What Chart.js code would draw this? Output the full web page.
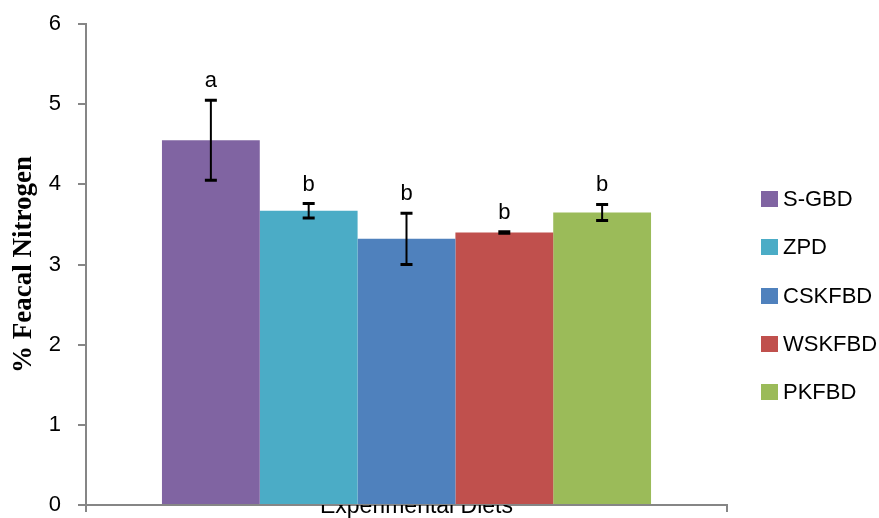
<!DOCTYPE html>
<html>
<head>
<meta charset="utf-8">
<script src="https://cdn.jsdelivr.net/npm/chart.js@4.4.1/dist/chart.umd.min.js"></script>
<style>
  html, body { margin: 0; padding: 0; background: #fff; }
  #wrap { position: relative; width: 879px; height: 518px; }
  #legend {
    position: absolute; left: 761px; top: 175px;
    font: 22px "Liberation Sans", Arial, sans-serif; color: #000;
  }
  #legend .item { display: flex; align-items: center; height: 48.3px; }
  #legend .box { width: 17px; height: 16px; margin-right: 5px; }
</style>
</head>
<body>
<div id="wrap">
  <canvas id="chart" width="879" height="518"></canvas>
  <div id="legend"></div>
</div>
<script>
// Data
const categories = ['Experimental Diets'];
const diets = ['S-GBD', 'ZPD', 'CSKFBD', 'WSKFBD', 'PKFBD'];
const means = [4.55, 3.67, 3.32, 3.40, 3.65];
const errors = [0.50, 0.09, 0.32, 0.01, 0.10];
const letters = ['a', 'b', 'b', 'b', 'b'];
const yMin = 0, yMax = 6, yStep = 1;

const colors = ['#8064A2', '#4BACC6', '#4F81BD', '#C0504D', '#9BBB59'];
const axisGray = '#868686';
const sansFont = '"Liberation Sans", Arial, sans-serif';

// Error bars and significance letters, drawn on top of the bars
const errorBarPlugin = {
  id: 'errorBars',
  afterDatasetsDraw(chart) {
    const ctx = chart.ctx;
    const y = chart.scales.y;
    ctx.save();
    ctx.strokeStyle = '#000';
    ctx.fillStyle = '#000';
    chart.data.datasets.forEach((ds, i) => {
      const bar = chart.getDatasetMeta(i).data[0];
      if (!bar) return;
      const x = bar.x;
      const top = y.getPixelForValue(means[i] + errors[i]);
      const bottom = y.getPixelForValue(means[i] - errors[i]);
      const cap = 6;
      ctx.lineWidth = 2;
      ctx.beginPath();
      ctx.moveTo(x, top);
      ctx.lineTo(x, bottom);
      ctx.stroke();
      ctx.lineWidth = 3;
      ctx.beginPath();
      ctx.moveTo(x - cap, top);
      ctx.lineTo(x + cap, top);
      ctx.moveTo(x - cap, bottom);
      ctx.lineTo(x + cap, bottom);
      ctx.stroke();

      ctx.font = '22px ' + sansFont;
      ctx.textAlign = 'center';
      ctx.textBaseline = 'alphabetic';
      ctx.fillText(letters[i], x, top - 13);
    });
    ctx.restore();
  }
};

const datasets = diets.map((name, i) => ({
  label: name,
  data: [means[i]],
  backgroundColor: colors[i],
  borderWidth: 0,
  categoryPercentage: 0.763,
  barPercentage: 1.0
}));

new Chart(document.getElementById('chart'), {
  type: 'bar',
  data: { labels: categories, datasets },
  options: {
    responsive: false,
    animation: false,
    layout: { padding: { top: 24, right: 152, left: 0, bottom: 0 } },
    plugins: {
      legend: { display: false },
      tooltip: { enabled: false }
    },
    scales: {
      x: {
        z: 1, // draw axis and its label above the bars, as in the original
        grid: {
          offset: true,
          drawOnChartArea: false,
          drawTicks: true,
          tickLength: 7,
          color: axisGray,
          lineWidth: 2
        },
        border: { color: axisGray, width: 2 },
        ticks: {
          color: '#000',
          font: { family: sansFont, size: 23 },
          padding: -19,
          labelOffset: 10,
          maxRotation: 0
        },
        afterFit(scale) { scale.height = 13; }
      },
      y: {
        min: yMin,
        max: yMax,
        grid: {
          drawOnChartArea: false,
          drawTicks: true,
          tickLength: 8,
          color: axisGray,
          lineWidth: 2
        },
        border: { color: axisGray, width: 2 },
        ticks: {
          stepSize: yStep,
          color: '#000',
          font: { family: sansFont, size: 22 },
          padding: 17
        },
        title: {
          display: true,
          text: '% Feacal Nitrogen',
          color: '#000',
          font: { family: '"Liberation Serif", "Times New Roman", serif', size: 27, weight: 'bold' },
          padding: { top: 8, bottom: 0 }
        },
        afterFit(scale) {
          scale.width = 86;
          scale.paddingTop = 0;
          scale.paddingBottom = 0;
        }
      }
    }
  },
  plugins: [errorBarPlugin]
});

// Legend built from the same series names and colours
const legend = document.getElementById('legend');
diets.forEach((name, i) => {
  const item = document.createElement('div');
  item.className = 'item';
  const box = document.createElement('span');
  box.className = 'box';
  box.style.background = colors[i];
  const text = document.createElement('span');
  text.textContent = name;
  item.appendChild(box);
  item.appendChild(text);
  legend.appendChild(item);
});
</script>
</body>
</html>
